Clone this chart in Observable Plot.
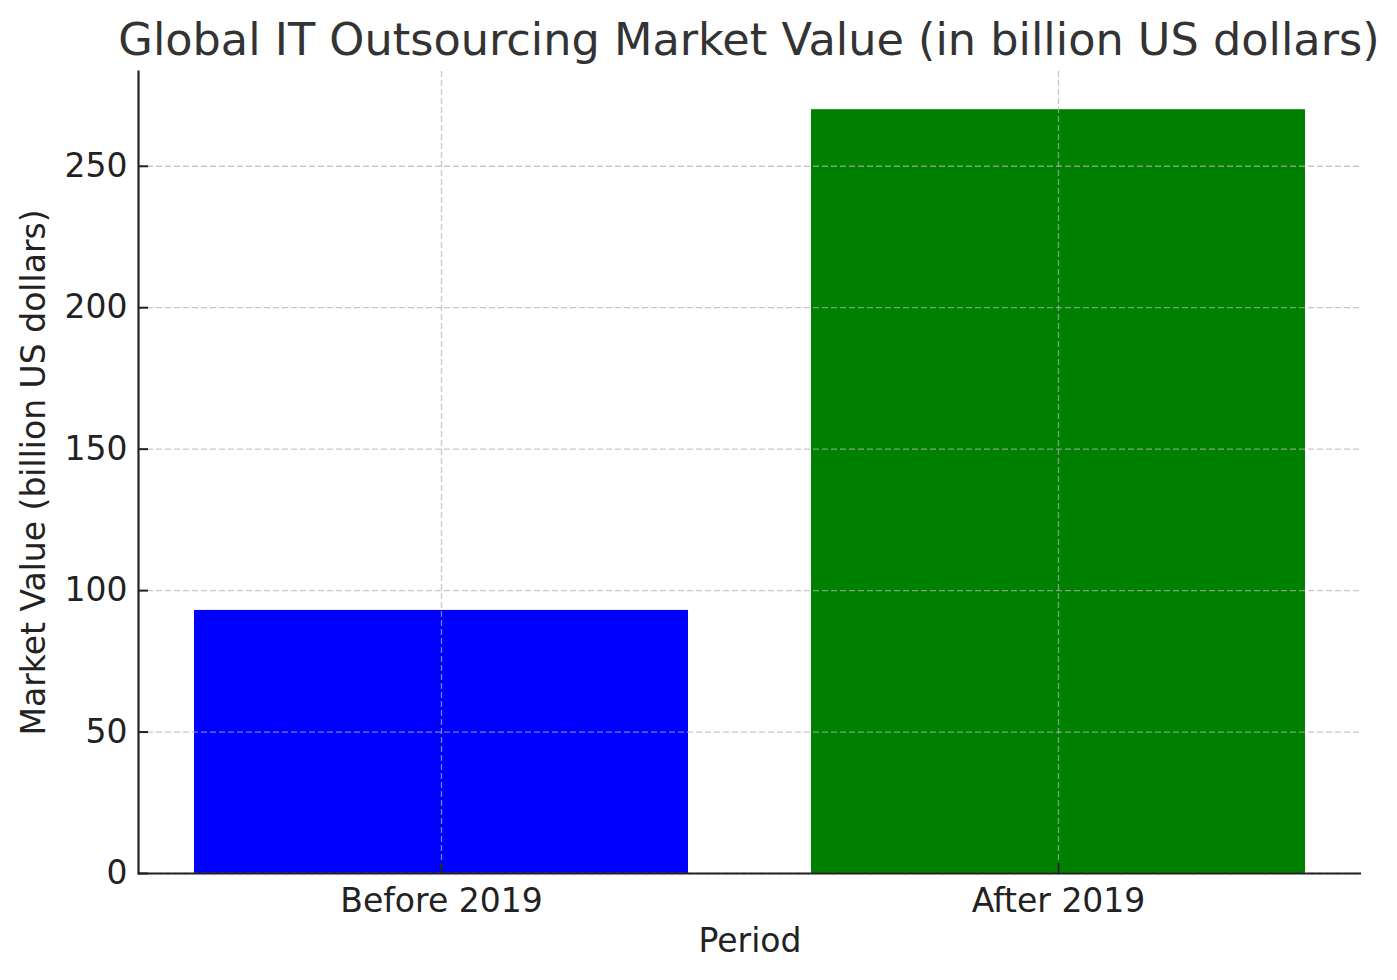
<!DOCTYPE html>
<html>
<head>
<meta charset="utf-8">
<script src="https://cdn.jsdelivr.net/npm/d3@7"></script>
<script src="https://cdn.jsdelivr.net/npm/@observablehq/plot@0.6"></script>
<style>
  html, body { margin: 0; padding: 0; background: #fff; overflow: hidden; }
  #title {
    width: 1397px; height: 62px; box-sizing: border-box;
    padding-top: 18px; padding-left: 0;
    font-family: "DejaVu Sans", sans-serif; font-size: 44.6px; line-height: 44px;
    color: #333333; text-align: center; white-space: nowrap;
  }
  #title span { display: inline-block; margin-left: 101px; }
</style>
</head>
<body>
<div id="title"><span>Global IT Outsourcing Market Value (in billion US dollars)</span></div>
<div id="chart"></div>
<script>
const periods = ["Before 2019", "After 2019"];
const values = [93, 270];
const colors = ["#0000ff", "#008000"];
const yTicks = [0, 50, 100, 150, 200, 250];

const data = periods.map((p, i) => ({period: p, value: values[i], color: colors[i]}));

const gridStyle = {stroke: "#b0b0b0", strokeOpacity: 0.7, strokeWidth: 1.3, strokeDasharray: "6,3"};

const chart = Plot.plot({
  width: 1397,
  height: 918,
  marginTop: 9,
  marginBottom: 107,
  marginLeft: 138,
  marginRight: 36,
  style: {fontFamily: "DejaVu Sans, sans-serif", fontSize: "33px", color: "#222", background: "#fff"},
  x: {domain: periods, paddingInner: 0.2, paddingOuter: 0.091, align: 0.5},
  y: {domain: [0, d3.max(values) * 1.05]},
  marks: [
    Plot.barY(data, {x: "period", y: "value", fill: "color"}),
    Plot.gridY(yTicks, gridStyle),
    Plot.gridX(periods, gridStyle),
    Plot.ruleY([0], {stroke: "#222", strokeWidth: 2.2}),
    Plot.frame({anchor: "left", stroke: "#222", strokeWidth: 2.2}),
    Plot.axisY(yTicks, {
      tickSize: -10, tickPadding: 21, strokeWidth: 2, stroke: "#222",
      label: "Market Value (billion US dollars)", labelAnchor: "center", labelArrow: "none", labelOffset: 117,
      fontSize: 33, fill: "#222"
    }),
    Plot.axisX(periods, {
      tickSize: -10, tickPadding: 25, strokeWidth: 2, stroke: "#222",
      label: "Period", labelAnchor: "center", labelArrow: "none", labelOffset: 78,
      fontSize: 33, fill: "#222"
    })
  ]
});
document.getElementById("chart").appendChild(chart);
</script>
</body>
</html>
